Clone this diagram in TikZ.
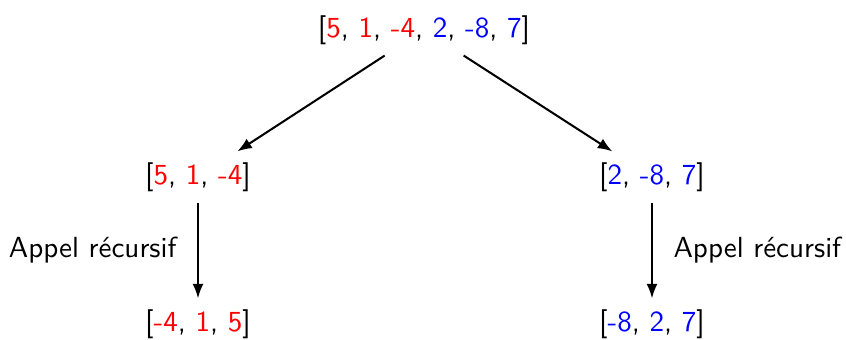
\documentclass[tikz,border=0pt]{standalone}
\usetikzlibrary{arrows.meta}
\newcommand\redn[1]{\textcolor{red}{#1}}
\newcommand\bluen[1]{\textcolor{blue}{#1}}
\begin{document}
\begin{tikzpicture}[x=0.344pt,y=-0.344pt, font=\sffamily,
  arr/.style={-{Latex[length=5pt,width=3.8pt]}, line width=0.7pt},
  lst/.style={inner sep=3.6pt},
  lbl/.style={inner sep=0pt}]
\useasboundingbox (0,0) rectangle (846,340);
\node[lst] (top) at (424,30) {[\redn{5}, \redn{1}, \redn{-4}, \bluen{2}, \bluen{-8}, \bluen{7}]};
\node[lst] (lm) at (198,177) {[\redn{5}, \redn{1}, \redn{-4}]};
\node[lst] (rm) at (652,177) {[\bluen{2}, \bluen{-8}, \bluen{7}]};
\node[lst] (lb) at (198,324) {[\redn{-4}, \redn{1}, \redn{5}]};
\node[lst] (rb) at (652,324) {[\bluen{-8}, \bluen{2}, \bluen{7}]};
\draw[arr] (top) -- (lm);
\draw[arr] (top) -- (rm);
\draw[arr] (lm) -- (lb);
\draw[arr] (rm) -- (rb);
\node[lbl, anchor=east] (ll) at (177,250) {Appel récursif};
\node[lbl, anchor=west] (rl) at (673,250) {Appel récursif};
\end{tikzpicture}
\end{document}
